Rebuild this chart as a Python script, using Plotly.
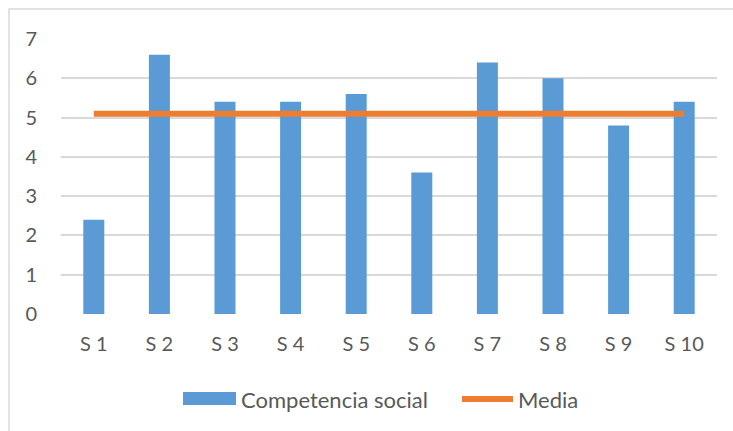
import plotly.graph_objects as go

# Data
sujetos = ["S 1", "S 2", "S 3", "S 4", "S 5", "S 6", "S 7", "S 8", "S 9", "S 10"]
competencia_social = [2.4, 6.6, 5.4, 5.4, 5.6, 3.6, 6.4, 6.0, 4.8, 5.4]
media = [5.1] * len(sujetos)
y_ticks = [0, 1, 2, 3, 4, 5, 6, 7]

BLUE = "#5B9BD5"
ORANGE = "#ED7D31"
TEXT = "#595959"
GRID = "#D9D9D9"
FONT = "Lato"
TICK_SIZE = 20
LEGEND_SIZE = 22

W, H = 733, 431
ML, MR, MT, MB = 61, 16, 39, 117
PW, PH = W - ML - MR, H - MT - MB


def px_x(x):
    return (x - ML) / PW


def px_y(y):
    return (H - MB - y) / PH


fig = go.Figure()
fig.add_trace(go.Bar(x=sujetos, y=competencia_social, name="Competencia social",
                     marker=dict(color=BLUE, line=dict(width=0)), showlegend=False))
fig.add_trace(go.Scatter(x=sujetos, y=media, name="Media", mode="lines",
                         line=dict(color=ORANGE, width=6), showlegend=False))

shapes = [
    # chart border
    dict(type="rect", xref="paper", yref="paper",
         x0=px_x(9), x1=px_x(W + 20), y0=px_y(H + 20), y1=px_y(9),
         line=dict(color=GRID, width=1.5), fillcolor="rgba(0,0,0,0)", layer="below"),
    # legend swatches
    dict(type="rect", xref="paper", yref="paper",
         x0=px_x(183), x1=px_x(236), y0=px_y(405), y1=px_y(392),
         line=dict(width=0), fillcolor=BLUE),
    dict(type="line", xref="paper", yref="paper",
         x0=px_x(462), x1=px_x(513), y0=px_y(399), y1=px_y(399),
         line=dict(color=ORANGE, width=6)),
]
annotations = [
    dict(text="Competencia social", xref="paper", yref="paper",
         x=px_x(239), y=px_y(399), xanchor="left", yanchor="middle",
         showarrow=False, font=dict(family=FONT, size=LEGEND_SIZE, color=TEXT)),
    dict(text="Media", xref="paper", yref="paper",
         x=px_x(516), y=px_y(399), xanchor="left", yanchor="middle",
         showarrow=False, font=dict(family=FONT, size=LEGEND_SIZE, color=TEXT)),
]

fig.update_layout(
    width=W, height=H,
    margin=dict(l=ML, r=MR, t=MT, b=MB, pad=0),
    paper_bgcolor="white", plot_bgcolor="white",
    bargap=0.68,
    font=dict(family=FONT, size=TICK_SIZE, color=TEXT),
    shapes=shapes, annotations=annotations,
    xaxis=dict(showgrid=False, showline=False, zeroline=False, ticks="",
               tickfont=dict(family=FONT, size=TICK_SIZE, color=TEXT),
               ticklabelstandoff=16),
    yaxis=dict(range=[0, 7], tickvals=y_ticks, showgrid=True, gridcolor=GRID,
               gridwidth=1.5, zeroline=False, showline=False, ticks="",
               tickfont=dict(family=FONT, size=TICK_SIZE, color=TEXT),
               ticklabelstandoff=23),
)

fig.write_html("out.html")
